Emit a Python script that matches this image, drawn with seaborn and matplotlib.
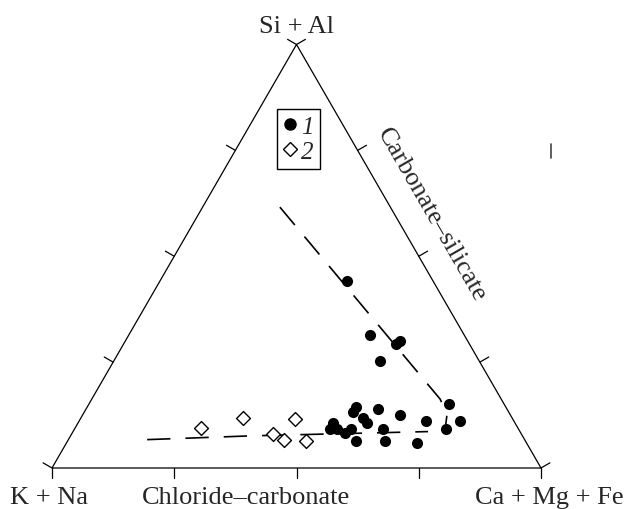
import numpy as np
import pandas as pd
import matplotlib
matplotlib.use("Agg")
import matplotlib.pyplot as plt
import seaborn as sns
from matplotlib.lines import Line2D

# Ternary compositions, percent
# Group 1 (filled circles)
g1_sial = [44.2, 31.4, 29.3, 30.0, 25.3, 14.4, 13.2, 13.9, 12.5, 15.1, 11.2, 9.2,
           11.1, 11.8, 10.6, 10.6, 9.2, 9.2, 8.3, 9.2, 9.2, 6.4, 6.4, 5.9]
g1_camgfe = [38.3, 49.3, 55.7, 56.2, 54.4, 55.0, 54.9, 59.7, 64.9, 73.6, 77.8, 76.0,
             70.9, 57.7, 59.1, 52.2, 52.2, 53.7, 55.8, 56.5, 63.1, 64.9, 59.0, 71.7]
g1_kna = [17.5, 19.3, 15.0, 13.8, 20.3, 30.6, 31.9, 26.4, 22.6, 11.3, 11.0, 14.8,
          18.0, 30.5, 30.3, 37.2, 38.6, 37.1, 35.9, 34.3, 27.7, 28.7, 34.6, 22.4]
# Group 2 (open diamonds)
g2_sial = [9.4, 11.8, 8.0, 6.7, 11.5, 6.3]
g2_camgfe = [25.8, 33.2, 41.1, 44.1, 44.0, 48.8]
g2_kna = [64.8, 55.0, 50.9, 49.2, 44.5, 44.9]

# Trend lines (dashed)
up_sial = [61.6, 16.3, 12.8, 9.2]
up_camgfe = [15.8, 71.2, 74.4, 75.8]
low_sial = [6.7, 7.6, 8.6]
low_camgfe = [16.1, 37.1, 72.6]

tick_fracs = [0, 0.25, 0.5, 0.75, 1.0]
vertex_labels = ["Si + Al", "K + Na", "Ca + Mg + Fe"]
side_labels = ["Chloride\u2013carbonate", "Carbonate\u2013silicate"]
legend_labels = ["1", "2"]

S3 = np.sqrt(3) / 2


def tern_xy(top, right):
    top = np.asarray(top, float) / 100.0
    right = np.asarray(right, float) / 100.0
    return right + top / 2.0, top * S3


sns.set_theme(style="white")
plt.rcParams["font.family"] = ["Liberation Serif", "DejaVu Serif"]

fig = plt.figure(figsize=(6.24, 5.10), dpi=100)
ax = fig.add_axes([0, 0, 1, 1])

# triangle frame
V = np.array([[0, 0], [1, 0], [0.5, S3], [0, 0]])
ax.plot(V[:, 0], V[:, 1], color="black", lw=0.9, solid_capstyle="butt")

# ticks
tl = 0.021
sides = [((0, 0), (1, 0), (0, -1)),
         ((0, 0), (0.5, S3), (-S3, 0.5)),
         ((1, 0), (0.5, S3), (S3, 0.5))]
for p0, p1, n in sides:
    for t in tick_fracs:
        px = p0[0] + t * (p1[0] - p0[0])
        py = p0[1] + t * (p1[1] - p0[1])
        ax.plot([px, px + tl * n[0]], [py, py + tl * n[1]], color="black", lw=0.9)

# data frames
x1, y1 = tern_xy(g1_sial, g1_camgfe)
x2, y2 = tern_xy(g2_sial, g2_camgfe)
df1 = pd.DataFrame({"x": x1, "y": y1})
df2 = pd.DataFrame({"x": x2, "y": y2})
xu, yu = tern_xy(up_sial, up_camgfe)
xl, yl = tern_xy(low_sial, low_camgfe)
dfu = pd.DataFrame({"x": xu, "y": yu})
dfl = pd.DataFrame({"x": xl, "y": yl})

for d in (dfu, dfl):
    sns.lineplot(data=d, x="x", y="y", sort=False, ax=ax, color="black",
                 lw=1.2, estimator=None)
for line in ax.lines[-2:]:
    line.set_dashes((14, 9))

sns.scatterplot(data=df1, x="x", y="y", ax=ax, marker="o", s=64,
                color="black", edgecolor="black", linewidth=0, zorder=5)
sns.scatterplot(data=df2, x="x", y="y", ax=ax, marker="D", s=50,
                facecolor="white", edgecolor="black", linewidth=1.0, zorder=5)
ax.set_xlim(-52 / 489, 572 / 489)
ax.set_ylim(-41 / 489, 469 / 489)
ax.axis("off")

fs = 19
ax.text(0.5, 0.8916, vertex_labels[0], ha="center", va="baseline", fontsize=fs)
ax.text(-0.006, -0.0716, vertex_labels[1], ha="center", va="baseline", fontsize=fs)
ax.text(1.016, -0.0716, vertex_labels[2], ha="center", va="baseline", fontsize=fs)
ax.text(0.397, -0.0716, side_labels[0], ha="center", va="baseline", fontsize=fs)
ax.text(0.775, 0.519, side_labels[1], ha="center", va="center", fontsize=fs,
        rotation=-60, rotation_mode="anchor")

# small stray mark at right
ax.plot([1.0204, 1.0204], [0.6626, 0.634], color="#444444", lw=1.2)

handles = [Line2D([], [], ls="none", marker="o", ms=8, mfc="black", mec="black"),
           Line2D([], [], ls="none", marker="D", ms=7, mfc="white", mec="black", mew=1.0)]
leg = ax.legend(handles, legend_labels, loc="upper left",
                bbox_to_anchor=(277 / 624, 1 - 110 / 510), bbox_transform=fig.transFigure,
                frameon=True, fancybox=False, edgecolor="black", framealpha=1,
                handlelength=0.55, handletextpad=0.15, borderpad=0.25, labelspacing=0.1,
                borderaxespad=0, prop={"family": "Liberation Serif", "style": "italic", "size": 18})
leg.get_frame().set_linewidth(1.0)

fig.savefig("out.png", dpi=100)
